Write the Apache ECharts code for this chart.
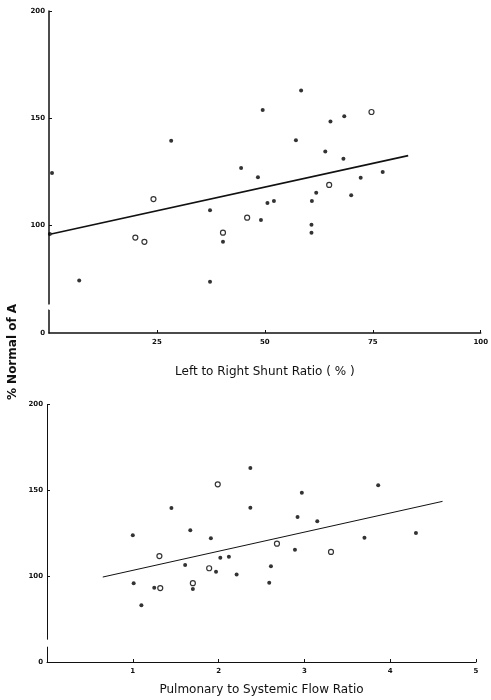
<!DOCTYPE html>
<html lang="en">
<head>
<meta charset="UTF-8">
<title>% Normal of A</title>
<style>
  * { margin: 0; padding: 0; }
  #chart { width: 491px; height: 700px; }
</style>
<script src="https://cdn.jsdelivr.net/npm/echarts@6/dist/echarts.min.js"></script>
</head>
<body>
<div id="chart"></div>
<script>
// top panel: left to right shunt ratio (%)
var shuntFilled = [[0.7,124.3],[0.2,95.8],[7,74],[28.3,139.3],[37.3,106.9],[37.3,73.5],[40.3,92.2],
  [44.5,126.6],[48.4,122.3],[49.1,102.3],[49.5,153.7],[50.6,110.3],[52.1,111.2],[57.2,139.6],
  [58.4,162.8],[60.9,111.2],[60.8,100.1],[60.8,96.3],[61.9,115],[64,134.3],[65.2,148.3],
  [68.4,150.8],[68.2,131],[70,113.9],[72.2,122.1],[77.3,124.8]];
var shuntOpen = [[20,94.1],[22.1,92.1],[24.2,112.1],[40.3,96.4],[45.9,103.4],[64.9,118.7],[74.7,152.8]];
var shuntFit = [[0.5,95.8],[83.2,132.4]];
var shuntTicks = [25, 50, 75, 100];

// bottom panel: pulmonary to systemic flow ratio
var flowFilled = [[1,123.7],[1.45,139.5],[1.67,126.6],[1.91,121.9],[2.37,162.8],[2.37,139.7],
  [2.02,110.6],[2.12,111.2],[1.61,106.4],[1.97,102.5],[2.21,100.8],[1.01,95.8],[1.25,93.2],
  [1.7,92.4],[1.1,83],[3.86,152.7],[2.97,148.4],[2.92,134.3],[3.15,131.8],[3.7,122.3],
  [4.3,125],[2.89,115.3],[2.61,105.6],[2.59,96.1]];
var flowOpen = [[1.99,153.3],[1.31,111.6],[1.89,104.5],[1.32,93],[1.7,95.8],[2.68,118.8],[3.31,114]];
var flowFit = [[0.65,99.4],[4.61,143.4]];
var flowTicks = [1, 2, 3, 4, 5];

var yTicks = [0, 100, 150, 200];

var chart = echarts.init(document.getElementById('chart'));

var tickFont = { fontFamily: 'DejaVu Sans', fontSize: 7, fontWeight: 'bold', color: '#111' };

function yAxisOf(grid, brk, width) {
  return {
    type: 'value', gridIndex: grid, min: 0, max: 200,
    breaks: [brk],
    breakArea: { itemStyle: { color: '#fff', borderColor: 'transparent', opacity: 1 } },
    axisLine: { show: true, lineStyle: { color: '#111', width: width } },
    axisTick: { show: true, inside: true, length: 3, customValues: yTicks.slice(1),
      lineStyle: { color: '#111' } },
    splitLine: { show: false },
    axisLabel: Object.assign({ margin: 4, customValues: yTicks }, tickFont)
  };
}

function xAxisOf(grid, max, ticks, name, gap, width) {
  return {
    type: 'value', gridIndex: grid, min: 0, max: max,
    name: name, nameLocation: 'middle', nameGap: gap,
    nameTextStyle: { fontFamily: 'DejaVu Sans', fontSize: 12, color: '#111' },
    axisLine: { show: true, lineStyle: { color: '#111', width: width } },
    axisTick: { show: true, inside: true, length: 3, customValues: ticks,
      lineStyle: { color: '#111' } },
    splitLine: { show: false },
    axisLabel: Object.assign({ margin: 6, customValues: ticks }, tickFont)
  };
}

function dots(i, data) {
  return { type: 'scatter', xAxisIndex: i, yAxisIndex: i, data: data, symbolSize: 4,
    itemStyle: { color: '#000' }, z: 3 };
}
function rings(i, data) {
  return { type: 'scatter', xAxisIndex: i, yAxisIndex: i, data: data, symbolSize: 5,
    itemStyle: { color: '#fff', borderColor: '#000', borderWidth: 1.2 }, z: 3 };
}
function fit(i, data, width) {
  return { type: 'line', xAxisIndex: i, yAxisIndex: i, data: data, symbol: 'none',
    lineStyle: { color: '#111', width: width }, z: 2 };
}

var option = {
  backgroundColor: '#fff',
  animation: false,
  grid: [
    { left: 49, right: 8, top: 11, height: 322 },
    { left: 47, right: 15, top: 404, height: 258 }
  ],
  xAxis: [
    xAxisOf(0, 100, shuntTicks, 'Left to Right Shunt Ratio ( % )', 33, 1.5),
    xAxisOf(1, 5, flowTicks, 'Pulmonary to Systemic Flow Ratio', 22, 1)
  ],
  yAxis: [
    yAxisOf(0, { start: 11, end: 63, gap: 2.5 }, 1.5),
    yAxisOf(1, { start: 9, end: 63, gap: 4 }, 1)
  ],
  graphic: [{
    type: 'text', x: 13, y: 352, rotation: Math.PI / 2,
    style: { text: '% Normal of A', fontFamily: 'DejaVu Sans', fontSize: 12, fontWeight: 'bold',
      fill: '#111', align: 'center', verticalAlign: 'middle' }
  }],
  series: [
    fit(0, shuntFit, 1.6), dots(0, shuntFilled), rings(0, shuntOpen),
    fit(1, flowFit, 1), dots(1, flowFilled), rings(1, flowOpen)
  ]
};
chart.setOption(option);
</script>
</body>
</html>
